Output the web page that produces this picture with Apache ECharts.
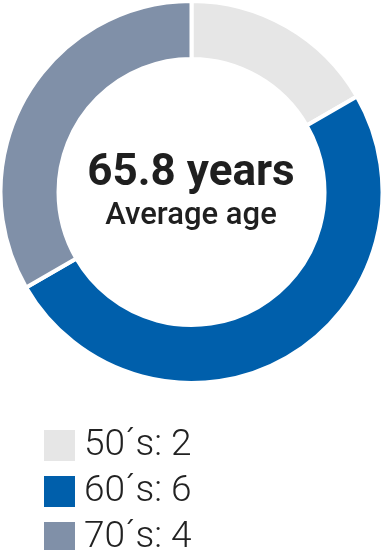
<!DOCTYPE html>
<html><head><meta charset="utf-8">
<script src="https://cdn.jsdelivr.net/npm/echarts@6/dist/echarts.min.js"></script>
<style>html,body{margin:0;padding:0;background:#fff}#c{width:382px;height:550px}</style>
</head><body><div id="c"></div>
<script>
const categories = ["50´s", "60´s", "70´s"];
const values = [2, 6, 4];
const colors = ["#e6e6e6", "#005fab", "#8090a8"];
const centerTitle = "65.8 years";
const centerSub = "Average age";

const chart = echarts.init(document.getElementById('c'), null, {renderer: 'canvas'});
chart.setOption({
  animation: false,
  color: colors,
  legend: {
    orient: 'vertical', left: 42, top: 427, height: 300, padding: 0,
    itemWidth: 33, itemHeight: 33, itemGap: 9,
    icon: 'rect',
    data: categories,
    formatter: name => name + ': ' + values[categories.indexOf(name)],
    textStyle: {fontFamily: 'Roboto', fontSize: 37, lineHeight: 33, fontWeight: 300, color: '#222', padding: [0,0,0,3]}
  },
  graphic: [
    {type: 'text', left: 'center', top: 152, style: {text: centerTitle, fontFamily: 'Roboto', fontSize: 44, fontWeight: 'bold', fill: '#1f1f1f'}},
    {type: 'text', left: 'center', top: 201, style: {text: centerSub, fontFamily: 'Roboto', fontSize: 31, fontWeight: 500, fill: '#1f1f1f'}}
  ],
  series: [{
    type: 'pie',
    center: [191.5, 192],
    radius: [133, 191],
    startAngle: 90,
    clockwise: true,
    label: {show: false},
    labelLine: {show: false},
    emphasis: {disabled: true},
    itemStyle: {borderColor: '#fff', borderWidth: 4},
    data: categories.map((c, i) => ({name: c, value: values[i]}))
  }]
});
</script></body></html>
